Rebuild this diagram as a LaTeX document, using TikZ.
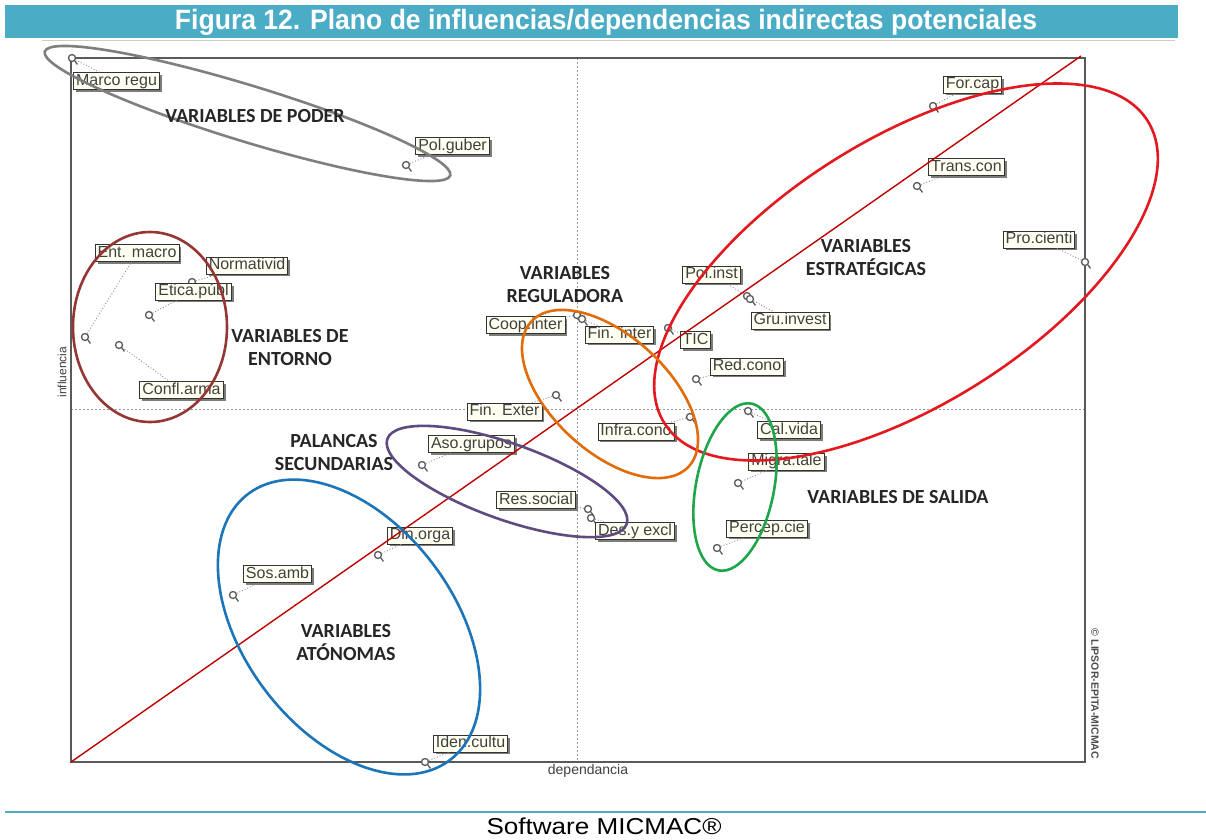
\documentclass[tikz,border=0pt]{standalone}
\usepackage{fontspec}
\setmainfont{Liberation Sans}
\newfontfamily\carlito{Carlito}
\usetikzlibrary{shadows}
\definecolor{titlebar}{HTML}{4BACC6}
\definecolor{framegray}{HTML}{5A5A5A}
\definecolor{diagred}{HTML}{C00000}
\definecolor{ellgray}{HTML}{7F7F7F}
\definecolor{ellbrown}{HTML}{943634}
\definecolor{ellred}{HTML}{E3191F}
\definecolor{ellorange}{HTML}{E26B0A}
\definecolor{ellgreen}{HTML}{1FA54A}
\definecolor{ellpurple}{HTML}{5F4B80}
\definecolor{ellblue}{HTML}{1C75B8}
\definecolor{labfill}{HTML}{FFFFF2}
\tikzset{
  pt/.style={circle, draw=framegray, fill=white, line width=1.3pt, inner sep=0pt, minimum size=7pt},
  lab/.style={draw=black!80, fill=labfill, line width=0.8pt, inner xsep=2.5pt, inner ysep=1pt,
    text height=11.5pt, text depth=3.4pt, font=\fontsize{16}{16}\selectfont, text=black!75,
    drop shadow={shadow xshift=2.5pt, shadow yshift=-2.5pt, fill=black!60, opacity=0.85}},
  leader/.style={draw=black!45, line width=0.9pt, dotted},
  tailstyle/.style={draw=framegray, line width=1.3pt},
  grp/.style={font=\carlito\bfseries\fontsize{20}{23}\selectfont, text=black!85, align=center},
  ell/.style={line width=2.6pt}
}
\newcommand{\mvar}[6]{%
  \node[pt] (p#1) at (#2,#3) {};
  \draw[tailstyle] (p#1.south east) -- ++(2.5,3.5);
  \node[lab] (l#1) at (#4,#5) {#6};
  \draw[leader] (p#1) -- (l#1);
}
\begin{document}
\begin{tikzpicture}[x=1pt,y=-1pt]
\useasboundingbox (0,0) rectangle (1206,839);
\fill[white] (0,0) rectangle (1206,839);
% title bar
\fill[titlebar] (5,5) rectangle (1178,38);
\draw[black!20, line width=0.6pt] (42,40) -- (1175,40);
\node[text=white, inner sep=0pt] (title) at (606,22)
  {\resizebox{862pt}{\height}{\fontsize{28}{28}\selectfont\bfseries Figura 12. Plano de influencias/dependencias indirectas potenciales}};
% frame and axes
\coordinate (bl) at (71,762);
\coordinate (tr) at (1085,58);
\draw[black!40, line width=0.9pt, dash pattern=on 2pt off 2pt] (577,58) -- (577,762);
\draw[black!40, line width=0.9pt, dash pattern=on 2pt off 2pt] (71,409) -- (1085,409);
\draw[framegray, line width=1.6pt] (bl) rectangle (tr);
\node[rotate=90, text=black!75, font=\fontsize{12}{12}\selectfont] (yl) at (62,372) {influencia};
\node[text=black!75, font=\fontsize{14}{14}\selectfont] (xl) at (588,771) {dependancia};
\node[rotate=-90, text=black!70, font=\fontsize{10.5}{10.5}\selectfont\bfseries] (copy) at (1095,694) {© LIPSOR-EPITA-MICMAC};
% variables
\mvar{mr}{72}{58}{116.5}{81}{Marco regu}
\mvar{pg}{406}{165}{452.5}{146}{Pol.guber}
\mvar{fc}{933}{106}{972.5}{84.5}{For.cap}
\mvar{tc}{917}{186}{966.5}{167}{Trans.con}
\mvar{pc}{1085}{262}{1039}{239.5}{Pro.cienti}
\mvar{em}{85}{337}{137}{253}{Ent. macro}
\mvar{nv}{192}{282}{247}{265.5}{Normativid}
\mvar{ep}{149}{315}{193.5}{291.5}{Etica.públ}
\mvar{ca}{119}{345}{181.5}{390}{Confl.arma}
\mvar{ci}{577}{315}{525.5}{325}{Coop.inter}
\mvar{fi}{582}{319}{619.5}{334.5}{Fin. inter}
\mvar{pi}{747}{296}{711.5}{274.5}{Pol.inst}
\mvar{gi}{750}{299}{790}{320.5}{Gru.invest}
\mvar{ti}{668}{328}{695.5}{340}{TIC}
\mvar{rc}{696}{379}{747}{366.5}{Red.cono}
\mvar{fe}{556}{395}{504.5}{411.5}{Fin. Exter}
\mvar{ic}{690}{417}{636}{431.5}{Infra.cono}
\mvar{cv}{748}{411}{789}{430}{Cal.vida}
\mvar{mt}{738}{483}{786.5}{461.5}{Migra.tale}
\mvar{pe}{717}{548}{767}{528.5}{Percep.cie}
\mvar{ag}{422}{465}{471.5}{444}{Aso.grupos}
\mvar{rs}{588}{509}{536}{500}{Res.social}
\mvar{de}{591}{518}{635}{531}{Des.y excl}
\mvar{do}{378}{555}{420}{535.5}{Din.orga}
\mvar{sa}{233}{595}{277.5}{574}{Sos.amb}
\mvar{iu}{425}{762}{470.5}{743.5}{Iden.cultu}
% diagonal
\draw[diagred, line width=1.4pt] (bl) -- (1081,56);
% group ellipses
\draw[ell, ellgray, rotate around={-17:(247.5,113.5)}] (247.5,113.5) ellipse [x radius=212, y radius=28];
\draw[ell, ellbrown] (150,327) ellipse [x radius=77, y radius=95];
\draw[ell, ellred, rotate around={32:(906,272)}] (906,272) ellipse [x radius=285, y radius=133];
\draw[ell, ellorange, rotate around={-42.6:(610,394)}] (610,394) ellipse [x radius=107, y radius=58];
\draw[ell, ellgreen, rotate around={78.8:(735,487)}] (735,487) ellipse [x radius=85, y radius=39];
\draw[ell, ellpurple, rotate around={-19.6:(507,481.5)}] (507,481.5) ellipse [x radius=127, y radius=38];
\draw[ell, ellblue, rotate around={-52.8:(349,627)}] (349,627) ellipse [x radius=167, y radius=105];
% group labels
\node[grp] (gpoder) at (255,116) {VARIABLES DE PODER};
\node[grp] (gentorno) at (290,348) {VARIABLES DE\\ENTORNO};
\node[grp] (greg) at (565,285) {VARIABLES\\REGULADORA};
\node[grp] (gest) at (866,258) {VARIABLES\\ESTRATÉGICAS};
\node[grp] (gsal) at (898,497) {VARIABLES DE SALIDA};
\node[grp] (gpal) at (334,453) {PALANCAS\\SECUNDARIAS};
\node[grp] (gato) at (346,642) {VARIABLES\\ATÓNOMAS};
% footer
\draw[titlebar, line width=2pt] (5,812) -- (1206,812);
\node[inner sep=0pt] (foot) at (604,826)
  {\resizebox{235pt}{\height}{\fontsize{23}{23}\selectfont Software MICMAC®}};
\end{tikzpicture}
\end{document}
